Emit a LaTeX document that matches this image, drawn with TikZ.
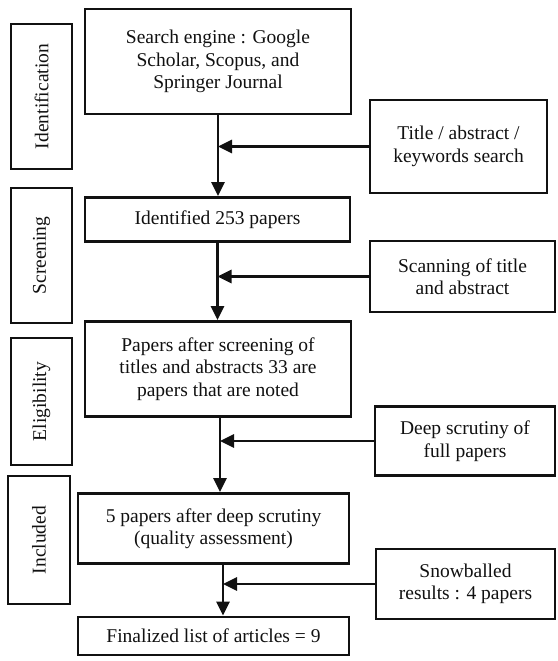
\documentclass[tikz,border=0pt]{standalone}
\usepackage{fontspec}
\setmainfont{Liberation Serif}
\usepackage{xcolor}
\usetikzlibrary{arrows.meta}
\definecolor{Ink}{HTML}{111111}
\definecolor{Paper}{HTML}{FFFFFF}
\tikzset{
  box/.style={draw=Ink,fill=Paper,line width=2.7pt,inner sep=0pt,align=center,font=\fontsize{19.5}{22.5}\selectfont,text=Ink},
  stage/.style={box,rotate=90},
  arr/.style={-{Triangle[length=14pt,width=13pt]},draw=Ink,line width=2.8pt}
}

\begin{document}
\begin{tikzpicture}[x=1pt,y=-1pt]
  \fill[Paper] (0,0) rectangle (557,661);
  \useasboundingbox (0,0) rectangle (557,661);
  % main column
  \node[box,minimum width=266pt,minimum height=105pt] (se) at (218,61.5) {Search engine : Google\\Scholar, Scopus, and\\Springer Journal};
  \node[box,minimum width=265pt,minimum height=44pt] (id) at (217.5,219.5) {Identified 253 papers};
  \node[box,minimum width=266pt,minimum height=95pt] (ps) at (218,369) {Papers after screening of\\titles and abstracts 33 are\\papers that are noted};
  \node[box,minimum width=271pt,minimum height=70pt] (fp) at (213.5,528.5) {5 papers after deep scrutiny\\(quality assessment)};
  \node[box,minimum width=271pt,minimum height=38pt] (fl) at (213.5,636) {Finalized list of articles = 9};
  % side boxes
  \node[box,minimum width=177pt,minimum height=93pt] (tk) at (458.5,146.5) {Title / abstract /\\keywords search};
  \node[box,minimum width=185pt,minimum height=71pt] (sc) at (462.5,276.5) {Scanning of title\\and abstract};
  \node[box,minimum width=180pt,minimum height=69pt] (ds) at (465,441) {Deep scrutiny of\\full papers};
  \node[box,minimum width=179pt,minimum height=70pt] (sb) at (465.5,584) {Snowballed\\results : 4 papers};
  % stages
  \node[stage,minimum width=145pt,minimum height=61pt] (sid) at (41.5,96.5) {Identification};
  \node[stage,minimum width=135pt,minimum height=61pt] (sscr) at (41.5,255.5) {Screening};
  \node[stage,minimum width=127pt,minimum height=61pt] (selig) at (41.5,401.5) {Eligibility};
  \node[stage,minimum width=128pt,minimum height=62pt] (sinc) at (39,540) {Included};
  % junctions
  \coordinate (psout) at ([xshift=2pt]ps.south);
  \coordinate (fpout) at ([xshift=9.5pt]fp.south);
  % flow
  \draw[arr] (se.south) -- (se.south |- id.north);
  \draw[arr] (tk.west) -- (tk.west -| se.south);
  \draw[arr] (id.south) -- (id.south |- ps.north);
  \draw[arr] (sc.west) -- (sc.west -| id.south);
  \draw[arr] (psout) -- (psout |- fp.north);
  \draw[arr] (ds.west) -- (ds.west -| psout);
  \draw[arr] (fpout) -- (fpout |- fl.north);
  \draw[arr] (sb.west) -- (sb.west -| fpout);
\end{tikzpicture}
\end{document}
